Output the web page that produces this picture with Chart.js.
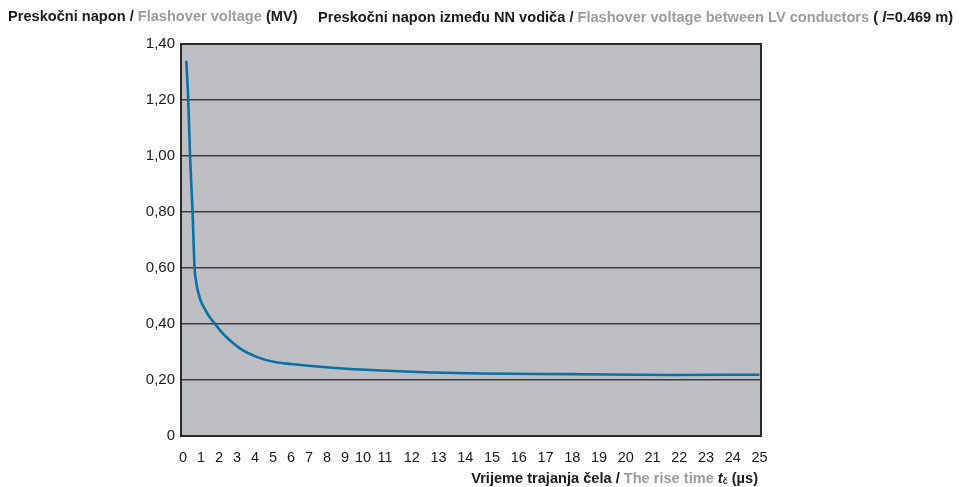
<!DOCTYPE html>
<html>
<head>
<meta charset="utf-8">
<script src="https://cdn.jsdelivr.net/npm/chart.js@4"></script>
<style>
  html, body { margin: 0; padding: 0; background: #ffffff; }
  #wrap { width: 968px; height: 487px; position: relative; }
</style>
</head>
<body>
<div id="wrap"><canvas id="c" width="968" height="487"></canvas></div>
<script>
// ---- data ----
const riseTime  = [0.18, 0.29, 0.39, 0.53, 0.64, 0.72, 0.80, 0.90, 1.0, 1.2, 1.4, 1.8, 2.3, 3.2, 4.2, 5.1, 6.0, 8.3, 10.8, 12.7, 14.6, 17.9, 21.7, 25];
const flashover = [1.34, 1.20, 1.00, 0.80, 0.60, 0.555, 0.525, 0.50, 0.48, 0.455, 0.432, 0.398, 0.36, 0.311, 0.28, 0.264, 0.257, 0.244, 0.234, 0.227, 0.223, 0.221, 0.218, 0.219];
const xTicks = [0,1,2,3,4,5,6,7,8,9,10,11,12,13,14,15,16,17,18,19,20,21,22,23,24,25];
const yTicks = [0, 0.2, 0.4, 0.6, 0.8, 1.0, 1.2, 1.4];

const FONT = '"Liberation Sans", Arial, Helvetica, sans-serif';
const GRAY = '#9c9c9c';
const BLACK = '#1a1a1a';

// ---- piecewise linear x scale (the printed axis is not uniform) ----
class PiecewiseScale extends Chart.LinearScale {
  _frac(value) {
    const k = this.options.knots;
    if (value <= k[0][0]) return k[0][1] + (value - k[0][0]) * (k[1][1] - k[0][1]) / (k[1][0] - k[0][0]);
    for (let i = 1; i < k.length; i++) {
      if (value <= k[i][0] || i === k.length - 1) {
        const a = k[i - 1], b = k[i];
        return a[1] + (value - a[0]) * (b[1] - a[1]) / (b[0] - a[0]);
      }
    }
  }
  getPixelForValue(value) {
    return this.getPixelForDecimal(this._frac(value));
  }
  getValueForPixel(pixel) {
    const d = this.getDecimalForPixel(pixel);
    const k = this.options.knots;
    for (let i = 1; i < k.length; i++) {
      if (d <= k[i][1] || i === k.length - 1) {
        const a = k[i - 1], b = k[i];
        return a[0] + (d - a[1]) * (b[0] - a[0]) / (b[1] - a[1]);
      }
    }
  }
}
PiecewiseScale.id = 'piecewise';
PiecewiseScale.defaults = Chart.LinearScale.defaults;
Chart.register(PiecewiseScale);

function drawSegs(ctx, x, y, segs, align) {
  let total = 0;
  for (const s of segs) { ctx.font = s.font; total += ctx.measureText(s.text).width; }
  if (align === 'right') x -= total;
  ctx.textBaseline = 'alphabetic';
  ctx.textAlign = 'left';
  for (const s of segs) {
    ctx.font = s.font; ctx.fillStyle = s.color;
    ctx.fillText(s.text, x, y + (s.dy || 0));
    x += ctx.measureText(s.text).width;
  }
}

const B = 'bold 14.6px ' + FONT;
const BI = 'italic bold 14.6px ' + FONT;

const framePlugin = {
  id: 'frame',
  beforeDraw(chart) {
    const { ctx, chartArea: a } = chart;
    ctx.save();
    ctx.fillStyle = '#bebfc3';
    ctx.fillRect(a.left, a.top, a.right - a.left, a.bottom - a.top);
    ctx.restore();
  },
  afterDraw(chart) {
    const { ctx, chartArea: a } = chart;
    ctx.save();
    ctx.strokeStyle = '#2a2a2a';
    ctx.lineWidth = 2;
    ctx.strokeRect(a.left, a.top, a.right - a.left, a.bottom - a.top);

    drawSegs(ctx, 8, 21, [
      { text: 'Preskočni napon / ', font: B, color: BLACK },
      { text: 'Flashover voltage', font: B, color: GRAY },
      { text: ' (MV)', font: B, color: BLACK }
    ]);
    drawSegs(ctx, 318, 22, [
      { text: 'Preskočni napon između NN vodiča / ', font: B, color: BLACK },
      { text: 'Flashover voltage between LV conductors', font: B, color: GRAY },
      { text: ' ( ', font: B, color: BLACK },
      { text: 'l', font: BI, color: BLACK },
      { text: '=0.469 m)', font: B, color: BLACK }
    ]);
    drawSegs(ctx, 758, 483, [
      { text: 'Vrijeme trajanja čela / ', font: B, color: BLACK },
      { text: 'The rise time ', font: B, color: GRAY },
      { text: 't', font: BI, color: BLACK },
      { text: 'č', font: 'bold 9px ' + FONT, color: BLACK, dy: 1 },
      { text: ' (µs)', font: B, color: BLACK }
    ], 'right');
    ctx.restore();
  }
};

const points = riseTime.map((t, i) => ({ x: t, y: flashover[i] }));

new Chart(document.getElementById('c'), {
  type: 'line',
  data: {
    datasets: [{
      data: points,
      borderColor: '#0a70a8',
      borderWidth: 2.6,
      pointRadius: 0,
      fill: false,
      cubicInterpolationMode: 'monotone'
    }]
  },
  options: {
    responsive: false,
    animation: false,
    events: [],
    layout: { padding: { left: 0, right: 207, top: 44, bottom: 0 } },
    plugins: { legend: { display: false }, tooltip: { enabled: false } },
    scales: {
      x: {
        type: 'piecewise',
        min: 0, max: 25,
        knots: [[0, 0.0035], [10, 0.3138], [11, 0.3517], [25, 0.9974]],
        afterBuildTicks(scale) { scale.ticks = xTicks.map(v => ({ value: v })); },
        afterFit(scale) { scale.height = 51; },
        grid: { display: false, drawTicks: false },
        border: { display: false },
        ticks: {
          autoSkip: false, maxRotation: 0, minRotation: 0,
          padding: 13, color: BLACK,
          font: { family: FONT, size: 14.5 },
          callback: v => String(v)
        }
      },
      y: {
        min: 0, max: 1.4,
        afterBuildTicks(scale) { scale.ticks = yTicks.map(v => ({ value: v })); },
        afterFit(scale) { scale.width = 181; },
        grid: { color: '#3c3c3c', lineWidth: 1.5, drawTicks: false },
        border: { display: false },
        ticks: {
          padding: 6, color: BLACK,
          font: { family: FONT, size: 15 },
          callback: v => (v === 0 ? '0' : Number(v).toFixed(2).replace('.', ','))
        }
      }
    }
  },
  plugins: [framePlugin]
});
</script>
</body>
</html>
